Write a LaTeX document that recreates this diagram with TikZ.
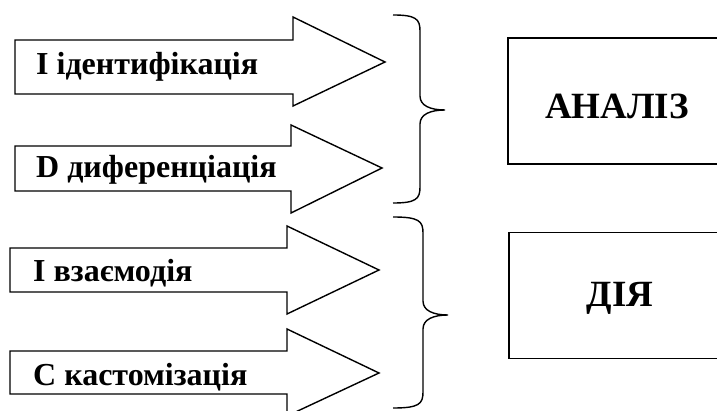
\documentclass[tikz,border=0pt]{standalone}
\usepackage{fontspec}
\setmainfont{Liberation Serif}
\begin{document}
\begin{tikzpicture}[x=1pt,y=-1pt,
  outline/.style={draw=black,line width=1.4pt,line join=miter},
  bracepath/.style={draw=black,line width=1.4pt},
  label/.style={anchor=base west,inner sep=0pt,font=\bfseries\fontsize{32}{36}\selectfont},
  boxlabel/.style={anchor=base,inner sep=0pt,font=\bfseries\fontsize{37}{40}\selectfont},
  panel/.style={draw=black,line width=1.4pt,minimum width=212pt,minimum height=126pt,inner sep=0pt}]
\useasboundingbox (0,0) rectangle (717,411);

% block arrows: body left, body top, body bottom, head x, head top, head bottom, tip x, tip y
\newcommand{\blockarrow}[8]{%
  \draw[outline] (#1,#2) -- (#4,#2) -- (#4,#5) -- (#7,#8) -- (#4,#6) -- (#4,#3) -- (#1,#3) -- cycle;}
\blockarrow{15}{40}{94}{293}{17}{106}{385}{62}
\blockarrow{15}{146}{191}{291}{125}{213}{382}{168}
\blockarrow{10}{248}{292}{287}{226}{314}{379}{270}
\blockarrow{10}{351}{394}{287}{329}{416}{379}{373}

\node[label] (l1) at (36,75) {I ідентифікація};
\node[label] (l2) at (36,178) {D диференціація};
\node[label] (l3) at (33,282) {I взаємодія};
\node[label] (l4) at (33,385) {С кастомізація};

% curly braces: top end x, top y, spine x, tip x, tip y, bottom y
\newcommand{\curly}[6]{%
  \draw[bracepath] (#1,#2) .. controls (#3-4,#2) and (#3,#2+4) .. (#3,#2+16)
    -- (#3,#5-14) .. controls (#3,#5-4) and (#4-14,#5) .. (#4,#5)
    (#4,#5) .. controls (#4-14,#5) and (#3,#5+4) .. (#3,#5+14)
    -- (#3,#6-16) .. controls (#3,#6-4) and (#3-4,#6) .. (#1,#6);}
\curly{393}{15}{420}{445}{110}{203}
\curly{393}{217}{423}{448}{315}{408}

\node[panel] (analiz) at (614,101) {};
\node[panel] (diia) at (615,295.5) {};
\node[boxlabel] (t1) at (617,119) {АНАЛІЗ};
\node[boxlabel] (t2) at (620,307) {ДІЯ};
\end{tikzpicture}
\end{document}
